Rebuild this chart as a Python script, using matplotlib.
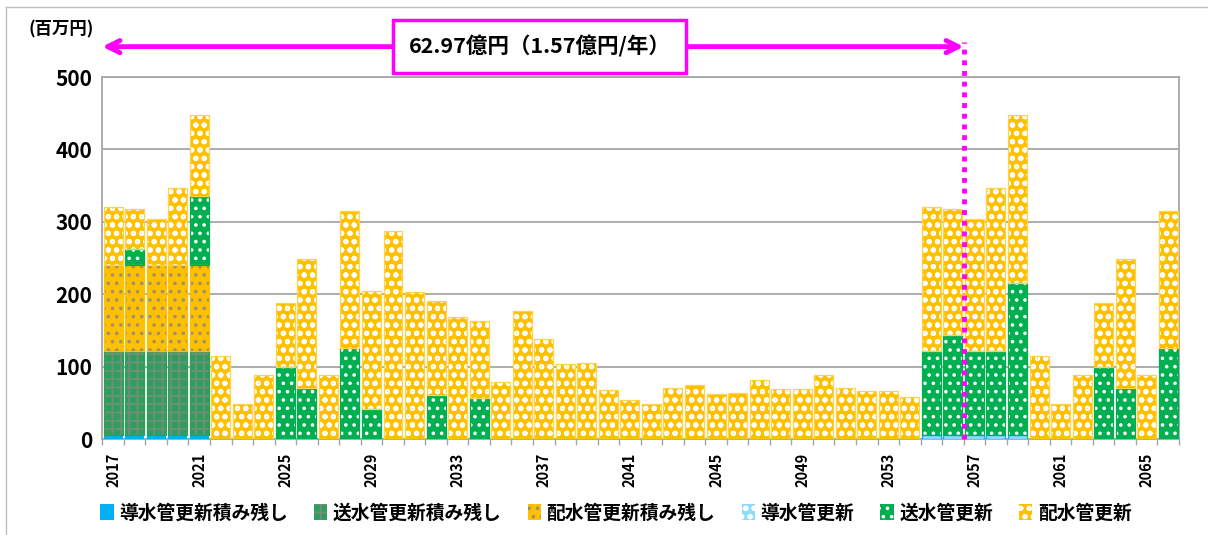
import numpy as np
import matplotlib.pyplot as plt
from matplotlib.lines import Line2D

plt.rcParams['font.family'] = ['Noto Sans CJK JP', 'DejaVu Sans']
plt.rcParams['font.weight'] = 'bold'
plt.rcParams['hatch.linewidth'] = 1.4

years = list(range(2017, 2067))

# 導水管更新積み残し
dosui_zan = [5, 5, 5, 5, 5] + [0] * 45
# 送水管更新積み残し
sosui_zan = [116, 116, 116, 116, 116] + [0] * 45
# 配水管更新積み残し
haisui_zan = [120, 120, 120, 120, 120] + [0] * 45
# 導水管更新
dosui = [0] * 38 + [5, 5, 5, 5, 5] + [0] * 7
# 送水管更新
sosui = [0, 22, 0, 0, 95, 0, 0, 0, 100, 70,
         0, 126, 42, 0, 0, 61, 0, 56, 0, 0,
         0, 0, 0, 0, 0, 0, 0, 0, 0, 0,
         0, 0, 0, 0, 0, 0, 0, 0, 116, 138,
         116, 116, 211, 0, 0, 0, 100, 70, 0, 126]
# 配水管更新
haisui = [80, 55, 63, 106, 111, 114, 48, 89, 88, 179,
          88, 189, 162, 287, 203, 130, 169, 107, 79, 177,
          138, 104, 105, 68, 54, 49, 70, 74, 62, 63,
          82, 69, 69, 88, 71, 67, 66, 58, 200, 175,
          183, 226, 231, 114, 48, 89, 88, 179, 88, 189]

labels = ['導水管更新積み残し', '送水管更新積み残し', '配水管更新積み残し',
          '導水管更新', '送水管更新', '配水管更新']
series = [dosui_zan, sosui_zan, haisui_zan, dosui, sosui, haisui]
# face colour, hatch colour, hatch, outline colour
styles = [('#00B0F0', '#00B0F0', None, '#00B0F0'),
          ('#2E9E5B', '#6E8F7A', '++', '#2E9E5B'),
          ('#FFC000', '#A09070', '..', '#FFC000'),
          ('#8FDDF8', 'white', 'oo', '#00B0F0'),
          ('#00B050', 'white', '..', '#00B050'),
          ('#FFC000', 'white', 'oo', '#FFD24D')]

fig = plt.figure(figsize=(12.08, 5.35), dpi=100)
ax = fig.add_axes([0.0847, 0.1794, 0.8913, 0.6766])

x = np.arange(len(years))
bottom = np.zeros(len(years))
handles = []
for lab, vals, (fc, hc, hatch, oc) in zip(labels, series, styles):
    vals = np.array(vals, dtype=float)
    m = vals > 0
    b = ax.bar(x[m], vals[m], 0.88, bottom=bottom[m], color=fc, edgecolor=hc,
               hatch=hatch, linewidth=0, zorder=3, label=lab)
    if hatch is not None:
        ax.bar(x[m], vals[m], 0.88, bottom=bottom[m], fill=False, edgecolor=oc,
               linewidth=0.9, zorder=4)
    handles.append(b)
    bottom += vals

ax.set_xlim(-0.5, len(years) - 0.5)
ax.set_ylim(0, 500)
ax.set_yticks(range(0, 501, 100))
ax.tick_params(axis='y', length=0, labelsize=15, pad=7)
ax.set_xticks(x[::4])
ax.set_xticklabels([str(y) for y in years[::4]], rotation=90, fontsize=10.5)
ax.tick_params(axis='x', which='major', length=0, pad=10)
ax.set_xticks(np.arange(-0.5, len(years), 1), minor=True)
ax.tick_params(axis='x', which='minor', length=4, color='#A6A6A6', width=1)
for lab in ax.get_yticklabels() + ax.get_xticklabels():
    lab.set_fontweight('bold')

ax.yaxis.grid(True, color='#A6A6A6', linewidth=1.3)
ax.set_axisbelow(True)
for s in ax.spines.values():
    s.set_color('#A6A6A6')
    s.set_linewidth(1.3)

# magenta period arrow, box and dotted line
mag = '#FF00FF'
ax.annotate('', xy=(-0.5, 542), xytext=(39.5, 542),
            arrowprops=dict(arrowstyle='<->', color=mag, lw=3.5,
                            mutation_scale=22, shrinkA=0, shrinkB=0),
            annotation_clip=False)
ax.text(19.8, 542, '62.97億円（1.57億円/年）', ha='center', va='center',
        fontsize=15.5, fontweight='bold', zorder=6, clip_on=False,
        bbox=dict(boxstyle='square,pad=0.72', facecolor='white',
                  edgecolor=mag, linewidth=2.5))
ax.plot([39.5, 39.5], [0, 548], color=mag, linestyle=(0, (1, 1.2)),
        linewidth=3.5, clip_on=False, zorder=5)

fig.text(0.024, 0.944, '(百万円)', fontsize=12.5, fontweight='bold',
         ha='left', va='center')

fig.legend(handles=handles, labels=labels, loc='center', ncol=6,
           bbox_to_anchor=(0.51, 0.041), frameon=False, fontsize=13.5,
           handlelength=0.7, handleheight=0.9, handletextpad=0.3,
           columnspacing=1.4)

# outer frame
fig.add_artist(Line2D([6 / 1208, 1], [1 - 7 / 535, 1 - 7 / 535],
                      transform=fig.transFigure, color='#BFBFBF', lw=1))
fig.add_artist(Line2D([6 / 1208, 6 / 1208], [0, 1 - 7 / 535],
                      transform=fig.transFigure, color='#BFBFBF', lw=1))

fig.savefig('out.png', dpi=100)
